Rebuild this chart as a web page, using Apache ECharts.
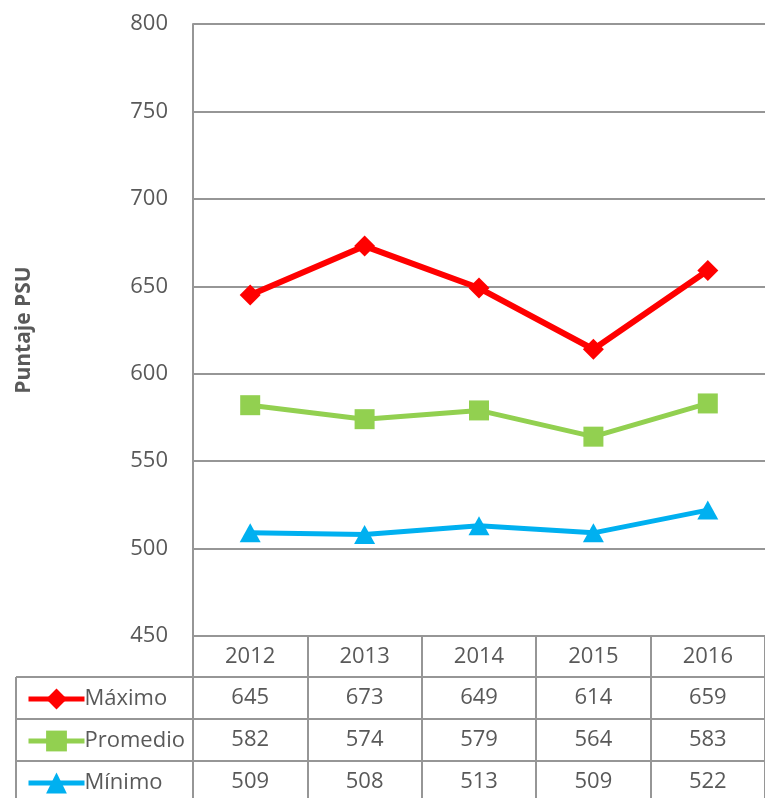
<!DOCTYPE html>
<html>
	<head>
		<meta charset="UTF-8" />
		<title>Puntaje PSU</title>
		<style>
			html, body { margin: 0; padding: 0; background: #fff; }
			#psuChart { width: 765px; height: 798px; }
		</style>
	</head>
	<body>
		<div id="psuChart"></div>
		<script type="text/javascript" src="https://cdn.jsdelivr.net/npm/echarts@6/dist/echarts.min.js"></script>
		<script type="text/javascript">
			// datos del grafico
			const years = ["2012", "2013", "2014", "2015", "2016"];
			const seriesNames = ["Máximo", "Promedio", "Mínimo"];
			const maximo = [645, 673, 649, 614, 659];
			const promedio = [582, 574, 579, 564, 583];
			const minimo = [509, 508, 513, 509, 522];

			const gris = "#969696";
			const texto = "#595959";
			const fuente = "Open Sans";

			const psuChart = echarts.init(document.getElementById("psuChart"));

			// fila de la tabla de datos bajo el eje X
			function filaTabla(valores, offset) {
				return {
					type: "category",
					data: years,
					position: "bottom",
					offset: offset,
					axisLine: { show: false },
					axisTick: { show: false },
					axisLabel: {
						margin: 10,
						fontSize: 22,
						fontFamily: fuente,
						color: texto,
						formatter: function(v, i) { return String(valores[i]); }
					}
				};
			}

			// una leyenda por fila de la tabla
			function leyendaFila(nombre, top) {
				return {
					orient: "vertical",
					left: 21,
					top: top,
					itemWidth: 56,
					itemHeight: 26,
					selectedMode: false,
					lineStyle: { width: 5 },
					textStyle: { fontSize: 22, fontFamily: fuente, color: texto, padding: [0, 0, 0, -5] },
					data: [nombre]
				};
			}

			// lineas de la tabla (bordes)
			function linea(x1, y1, x2, y2) {
				return {
					type: "line",
					shape: { x1: x1, y1: y1, x2: x2, y2: y2 },
					style: { stroke: gris, lineWidth: 2 },
					silent: true
				};
			}

			const psuChartOpt = {
				animation: false,
				textStyle: { fontFamily: fuente },
				grid: { left: 193, top: 24, width: 575, bottom: 162, containLabel: false },
				legend: [
					leyendaFila(seriesNames[0], 683),
					leyendaFila(seriesNames[1], 725),
					leyendaFila(seriesNames[2], 767)
				],
				xAxis: [{
					type: "category",
					data: years,
					position: "bottom",
					axisLine: { lineStyle: { color: gris, width: 2 } },
					axisTick: { show: true, length: 162, interval: 0, lineStyle: { color: gris, width: 2 } },
					axisLabel: { margin: 10, fontSize: 22, fontFamily: fuente, color: texto }
				},
					filaTabla(maximo, 41),
					filaTabla(promedio, 83),
					filaTabla(minimo, 125)
				],
				yAxis: {
					type: "value",
					min: 450,
					max: 800,
					interval: 50,
					name: "Puntaje PSU",
					nameLocation: "middle",
					nameRotate: 90,
					nameGap: 158,
					nameTextStyle: { fontSize: 21, fontWeight: "bold", color: texto, fontFamily: fuente },
					axisLine: { show: true, lineStyle: { color: gris, width: 2 } },
					axisTick: { show: false },
					axisLabel: { margin: 25, fontSize: 22, fontFamily: fuente, color: texto },
					splitLine: { lineStyle: { color: gris, width: 2 } }
				},
				series: [{
					name: seriesNames[0],
					type: "line",
					data: maximo,
					symbol: "diamond",
					symbolSize: 21,
					lineStyle: { color: "#FF0000", width: 6 },
					itemStyle: { color: "#FF0000", borderWidth: 0 }
				}, {
					name: seriesNames[1],
					type: "line",
					data: promedio,
					symbol: "rect",
					symbolSize: 20,
					lineStyle: { color: "#92D050", width: 5 },
					itemStyle: { color: "#92D050", borderWidth: 0 }
				}, {
					name: seriesNames[2],
					type: "line",
					data: minimo,
					symbol: "triangle",
					symbolSize: [21, 19],
					lineStyle: { color: "#00B0F0", width: 5 },
					itemStyle: { color: "#00B0F0", borderWidth: 0 }
				}],
				graphic: [
					linea(16, 677, 765, 677),
					linea(16, 719, 765, 719),
					linea(16, 761, 765, 761),
					linea(16, 677, 16, 798)
				]
			};
			psuChart.setOption(psuChartOpt);
		</script>
	</body>
</html>
